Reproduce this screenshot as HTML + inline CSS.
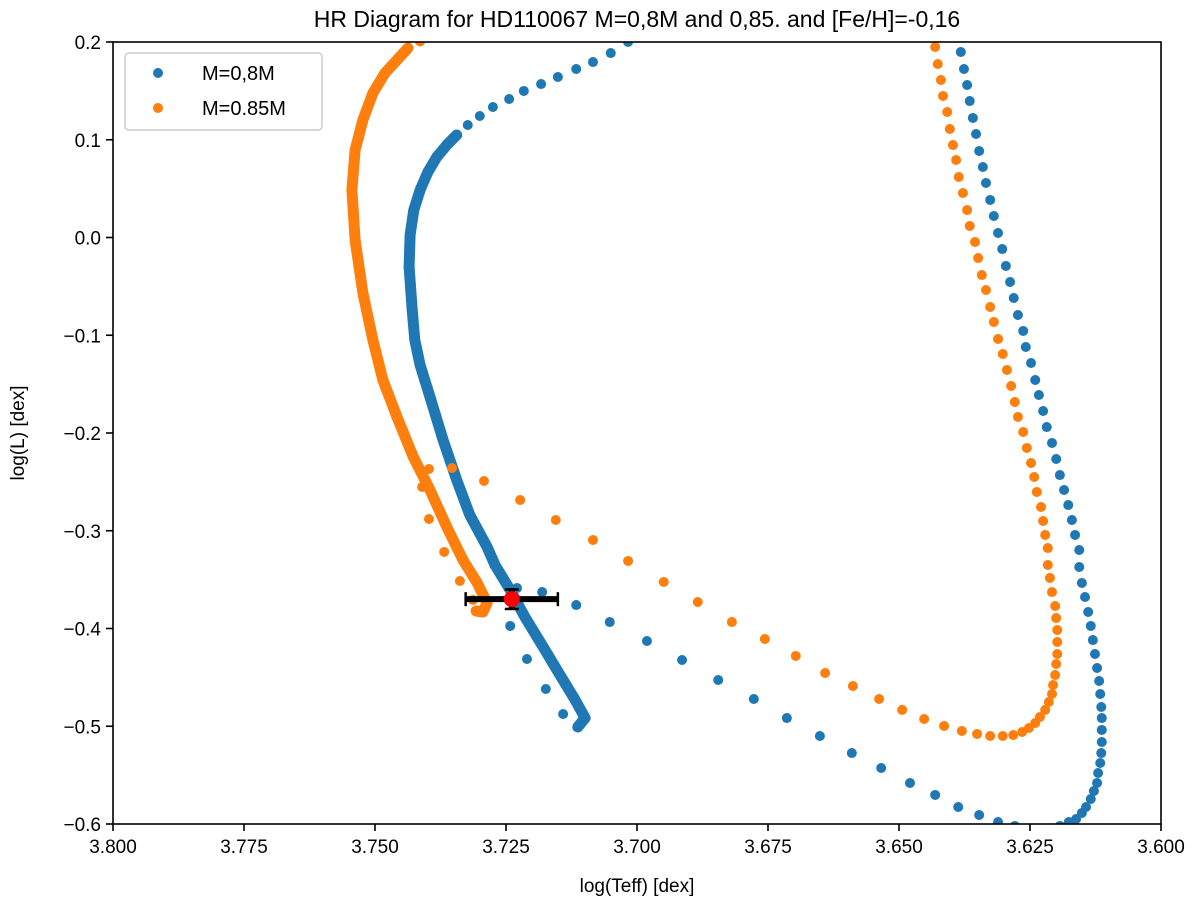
<!DOCTYPE html>
<html><head><meta charset="utf-8"><style>
html,body{margin:0;padding:0;background:#fff;}
svg text{font-family:"Liberation Sans","DejaVu Sans",sans-serif;fill:#000;}
</style></head><body>
<svg id="chart" width="1200" height="904" viewBox="0 0 1200 904" xmlns="http://www.w3.org/2000/svg">
<defs><clipPath id="pc"><rect x="113" y="42" width="1048" height="782"/></clipPath></defs>
<text x="637" y="27" font-size="23" text-anchor="middle">HR Diagram for HD110067 M=0,8M and 0,85. and [Fe/H]=-0,16</text>
<g id="plot" clip-path="url(#pc)"></g>
<g id="axes"></g>
<text x="637" y="892" font-size="19" text-anchor="middle">log(Teff) [dex]</text>
<text transform="translate(24,433) rotate(-90)" font-size="19" text-anchor="middle">log(L) [dex]</text>
<g>
<rect x="125" y="53" width="197" height="77" rx="4" fill="#fff" stroke="#ccc" stroke-width="1.5"/>
<circle cx="158" cy="73" r="5" fill="#1f77b4"/>
<text x="202" y="80" font-size="20">M=0,8M</text>
<circle cx="158" cy="108" r="5" fill="#ff7f0e"/>
<text x="202" y="115" font-size="20">M=0.85M</text>
</g>
</svg>
<script>
const xTicks=[3.800,3.775,3.750,3.725,3.700,3.675,3.650,3.625,3.600];
const xTickLabels=["3.800","3.775","3.750","3.725","3.700","3.675","3.650","3.625","3.600"];
const yTicks=[0.2,0.1,0.0,-0.1,-0.2,-0.3,-0.4,-0.5,-0.6];
const yTickLabels=["0.2","0.1","0.0","\u22120.1","\u22120.2","\u22120.3","\u22120.4","\u22120.5","\u22120.6"];
// M=0.8 dense track
const blueDenseT=[3.7113,3.7099,3.7118,3.7147,3.7179,3.7214,3.7242,3.7271,3.7286,3.7319,3.7344,3.7370,3.7395,3.7414,3.7424,3.7429,3.7435,3.7433,3.7426,3.7414,3.7399,3.7382,3.7363,3.7344];
const blueDenseL=[-0.5008,-0.4916,-0.4731,-0.4476,-0.4189,-0.3882,-0.3606,-0.335,-0.3166,-0.2839,-0.2481,-0.2072,-0.1632,-0.1304,-0.1049,-0.0742,-0.0302,0.0026,0.0281,0.0486,0.067,0.0824,0.0946,0.1049];
// M=0.8 sparse points
const blueT=[3.7323,3.7300,3.7275,3.7244,3.7216,3.7183,3.7151,3.7116,3.7084,3.7050,3.7017,
3.6382,3.6376,3.6370,3.6365,3.6359,3.6353,3.6347,3.6340,3.6334,3.6326,3.6319,3.6311,3.6303,3.6296,3.6288,3.6281,3.6273,3.6263,3.6258,3.6248,3.6240,3.6233,3.6225,3.6218,3.6208,3.6200,3.6193,3.6185,3.6177,3.6170,3.6164,3.6156,3.6156,3.6151,3.6145,3.6139,3.6134,3.6130,3.6126,3.6122,3.6118,3.6116,3.6114,3.6113,3.6113,3.6113,3.6114,3.6116,3.6120,3.6122,3.6128,3.6134,3.6143,3.6151,3.6162,3.6176,3.6193,
3.7229,3.7181,3.7116,3.7052,3.6981,3.6914,3.6845,3.6777,3.6714,3.6651,3.6590,3.6534,3.6479,3.6431,3.6387,3.6347,3.6311,3.6279,
3.7242,3.7210,3.7174,3.7141];
const blueL=[0.1151,0.1243,0.1335,0.1417,0.1499,0.157,0.1642,0.1724,0.1795,0.1887,0.2,
0.1898,0.1724,0.156,0.1396,0.1223,0.1059,0.0885,0.0721,0.0558,0.0384,0.022,0.0046,-0.0118,-0.0291,-0.0455,-0.0619,-0.0793,-0.0956,-0.112,-0.1284,-0.1458,-0.1611,-0.1775,-0.1939,-0.2102,-0.2266,-0.243,-0.2583,-0.2737,-0.289,-0.3043,-0.3197,-0.3371,-0.3534,-0.3678,-0.3831,-0.3974,-0.4118,-0.4261,-0.4404,-0.4537,-0.467,-0.4803,-0.4916,-0.5038,-0.5161,-0.5274,-0.5376,-0.5478,-0.558,-0.5662,-0.5744,-0.5826,-0.5887,-0.5949,-0.598,-0.602,
-0.3586,-0.3627,-0.376,-0.3934,-0.4128,-0.4322,-0.4527,-0.4721,-0.4916,-0.51,-0.5274,-0.5427,-0.558,-0.5703,-0.5826,-0.5908,-0.598,-0.602,
-0.3974,-0.4312,-0.4619,-0.4875];
// M=0.85 dense track
const orangeDenseT=[3.7307,3.7294,3.7286,3.7305,3.7332,3.7363,3.7395,3.7427,3.7458,3.7485,3.7504,3.7523,3.7538,3.7544,3.7538,3.7523,3.7504,3.7481,3.7458,3.7437];
const orangeDenseL=[-0.3821,-0.3831,-0.3739,-0.3534,-0.3299,-0.2962,-0.2583,-0.2246,-0.1836,-0.1458,-0.1049,-0.0568,-0.0026,0.0486,0.0895,0.1202,0.1478,0.1683,0.1816,0.1939];
// M=0.85 sparse points
const orangeT=[3.7414,3.7397,3.7353,3.7292,3.7223,3.7155,3.7084,3.7017,3.6949,3.6884,3.6819,3.6756,3.6697,3.6641,3.6588,3.6538,3.6494,3.6452,3.6414,3.6380,3.6351,3.6326,3.6302,3.6282,3.6265,3.6252,3.6240,3.6231,3.6221,3.6214,3.6208,3.6206,3.6202,3.6200,3.6198,3.6198,3.6198,3.6200,3.6202,3.6208,3.6212,3.6216,3.6216,3.6221,3.6225,3.6229,3.6237,3.6242,3.6248,3.6256,3.6263,3.6273,3.6279,3.6286,3.6294,3.6302,3.6311,3.6319,3.6326,3.6334,3.6342,3.6349,3.6355,3.6365,3.6370,3.6378,3.6386,3.6391,3.6397,3.6403,3.6408,3.6416,3.6420,3.6426,3.6431,
3.7410,3.7397,3.7368,3.7338,3.7313];
const orangeL=[0.2005,-0.2368,-0.2358,-0.2491,-0.2685,-0.289,-0.3094,-0.3309,-0.3524,-0.3729,-0.3934,-0.4107,-0.4281,-0.4455,-0.4588,-0.4721,-0.4833,-0.4926,-0.4997,-0.5048,-0.5079,-0.51,-0.51,-0.509,-0.5059,-0.5018,-0.4967,-0.4905,-0.4833,-0.4752,-0.467,-0.4578,-0.4476,-0.4363,-0.4261,-0.4138,-0.4015,-0.3893,-0.377,-0.3627,-0.3483,-0.335,-0.3177,-0.3043,-0.29,-0.2757,-0.2603,-0.245,-0.2307,-0.2153,-0.199,-0.1836,-0.1683,-0.1519,-0.1355,-0.1192,-0.1038,-0.0864,-0.0711,-0.0537,-0.0384,-0.021,-0.0046,0.0118,0.0281,0.0455,0.0619,0.0793,0.0946,0.111,0.1284,0.1448,0.1611,0.1775,0.1949,
-0.2552,-0.288,-0.3217,-0.3514,-0.3708];
const starT=[3.7239];
const starL=[-0.37];
const starTerr=[0.0088];
const starLerr=[0.01];

const X0=113,X1=1161,Y0=42,Y1=824;
const xMin=3.8,xMax=3.6,yMax=0.2,yMin=-0.6;
function sx(v){return X0+(v-xMin)/(xMax-xMin)*(X1-X0);}
function sy(v){return Y0+(yMax-v)/(yMax-yMin)*(Y1-Y0);}
const NS="http://www.w3.org/2000/svg";
const plot=document.getElementById('plot');
const axes=document.getElementById('axes');
function mk(tag,attrs,parent){const e=document.createElementNS(NS,tag);for(const k in attrs)e.setAttribute(k,attrs[k]);parent.appendChild(e);return e;}

function dense(T,L,color,name){
  const pts=T.map((t,i)=>sx(t).toFixed(1)+','+sy(L[i]).toFixed(1)).join(' ');
  const pl=mk('polyline',{points:pts,fill:'none',stroke:color,'stroke-width':11,'stroke-linejoin':'round','stroke-linecap':'round'},plot);
  
  
  T.forEach((t,i)=>{
    const c=mk('circle',{cx:sx(t),cy:sy(L[i]),r:5,fill:color},plot);
    
    
  });
}
function dots(T,L,color,name){
  T.forEach((t,i)=>{
    const c=mk('circle',{cx:sx(t),cy:sy(L[i]),r:5,fill:color},plot);
    
    
  });
}
dots(blueT,blueL,'#1f77b4','m080');
dense(blueDenseT,blueDenseL,'#1f77b4','m080');
dots(orangeT,orangeL,'#ff7f0e','m085');
dense(orangeDenseT,orangeDenseL,'#ff7f0e','m085');

starT.forEach((t,i)=>{
  const g=mk('g',{},plot);
  
  
  const xa=sx(t-starTerr[i]), xb=sx(t+starTerr[i]), y=sy(starL[i]);
  const ya=sy(starL[i]+starLerr[i]), yb=sy(starL[i]-starLerr[i]), x=sx(t);
  mk('line',{x1:xa,y1:y,x2:xb,y2:y,stroke:'#000','stroke-width':6},g);
  mk('line',{x1:x,y1:ya,x2:x,y2:yb,stroke:'#000','stroke-width':6},g);
  mk('line',{x1:xa,y1:y-7,x2:xa,y2:y+7,stroke:'#000','stroke-width':2.5},g);
  mk('line',{x1:xb,y1:y-7,x2:xb,y2:y+7,stroke:'#000','stroke-width':2.5},g);
  mk('line',{x1:x-7,y1:ya,x2:x+7,y2:ya,stroke:'#000','stroke-width':2.5},g);
  mk('line',{x1:x-7,y1:yb,x2:x+7,y2:yb,stroke:'#000','stroke-width':2.5},g);
  mk('circle',{cx:x,cy:y,r:8,fill:'#ff0000'},g);
});

const fr=mk('rect',{x:X0,y:Y0,width:X1-X0,height:Y1-Y0,fill:'none',stroke:'#000','stroke-width':1.6},axes);


xTicks.forEach((v,i)=>{
  const x=sx(v);
  const tk=mk('line',{x1:x,y1:Y1,x2:x,y2:Y1+7,stroke:'#000','stroke-width':1.6},axes);
  
  
  const tx=mk('text',{x:x,y:Y1+29,'font-size':19,'text-anchor':'middle'},axes);
  tx.textContent=xTickLabels[i];
  
  
});
yTicks.forEach((v,i)=>{
  const y=sy(v);
  const tk=mk('line',{x1:X0-7,y1:y,x2:X0,y2:y,stroke:'#000','stroke-width':1.6},axes);
  
  
  const tx=mk('text',{x:X0-12,y:y+7,'font-size':19,'text-anchor':'end'},axes);
  tx.textContent=yTickLabels[i];
  
  
});
</script>
</body></html>
